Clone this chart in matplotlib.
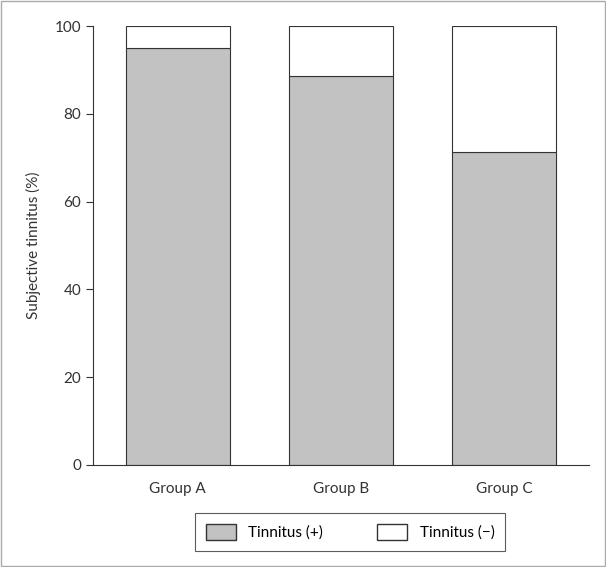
import matplotlib.pyplot as plt
from matplotlib.patches import Patch, Rectangle

groups = ["Group A", "Group B", "Group C"]
tinnitus_pos = [95.0, 88.7, 71.4]
tinnitus_neg = [100 - v for v in tinnitus_pos]
yticks = [0, 20, 40, 60, 80, 100]

plt.rcParams["font.family"] = ["Lato", "DejaVu Sans"]
fig = plt.figure(figsize=(6.06, 5.67), dpi=100)
ax = fig.add_axes([93 / 606, 1 - 465 / 567, 496 / 606, 439 / 567])

x = range(len(groups))
ax.bar(x, tinnitus_pos, width=0.64, color="#c2c2c2", edgecolor="#333333", linewidth=0.8)
ax.bar(x, tinnitus_neg, bottom=tinnitus_pos, width=0.64, color="white",
       edgecolor="#333333", linewidth=0.8)

ax.set_xlim(-0.52, 2.52)
ax.set_ylim(0, 100)
ax.set_xticks(list(x))
ax.set_xticklabels(groups, fontsize=11, color="#333333")
ax.set_yticks(yticks)
ax.tick_params(axis="y", labelsize=11, colors="#333333", length=5)
ax.tick_params(axis="x", length=0, pad=12)
ax.set_ylabel("Subjective tinnitus (%)", fontsize=11, color="#333333", labelpad=10)
for s in ["top", "right"]:
    ax.spines[s].set_visible(False)
for s in ["left", "bottom"]:
    ax.spines[s].set_color("#333333")

handles = [Patch(facecolor="#c2c2c2", edgecolor="#333333", label="Tinnitus (+)"),
           Patch(facecolor="white", edgecolor="#333333", label="Tinnitus (\u2212)")]
leg = fig.legend(handles=handles, loc="center", bbox_to_anchor=(350 / 606, 1 - 532 / 567),
                 ncol=2, fontsize=11, frameon=True, fancybox=False, edgecolor="#333333",
                 handlelength=2.0, handleheight=1.2, columnspacing=3.5, borderpad=0.7)
leg.get_frame().set_linewidth(0.8)

fig.patches.append(Rectangle((0.002, 0.002), 0.996, 0.996, transform=fig.transFigure,
                             fill=False, edgecolor="#aaaaaa", linewidth=1))
fig.savefig("out.png", dpi=100)
